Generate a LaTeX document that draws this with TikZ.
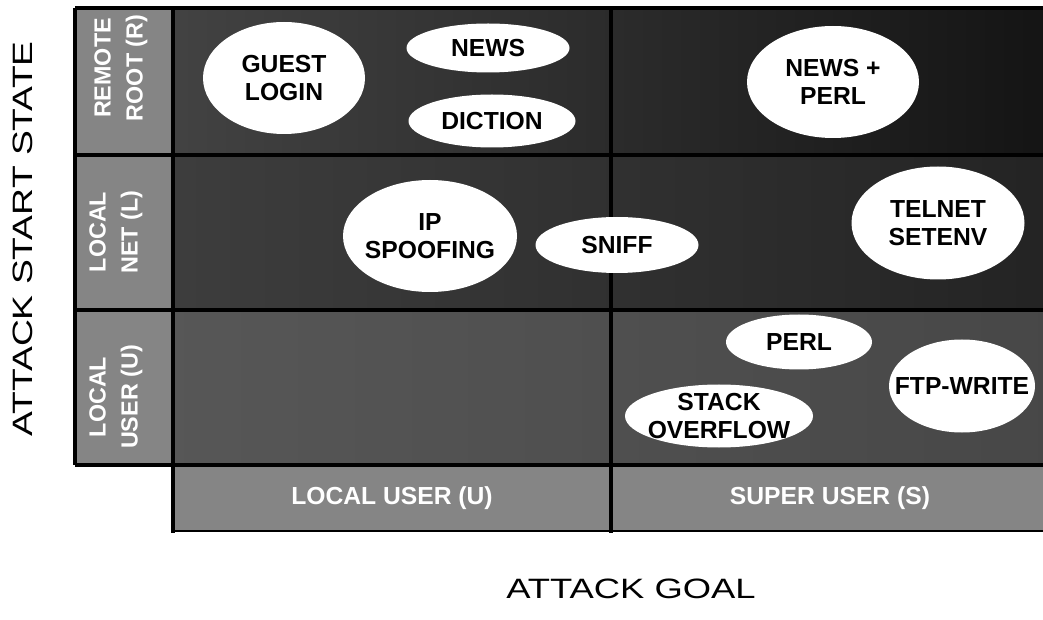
\documentclass[tikz,border=0pt]{standalone}
\usepackage{fontspec}
\usepackage{graphicx}
\setmainfont{Liberation Sans}
\usetikzlibrary{shapes.geometric}
\tikzset{
  attack/.style 2 args={ellipse, fill=white, draw=none, inner sep=0pt,
    minimum width=#1*0.75pt, minimum height=#2*0.75pt},
  attacktext/.style={font=\bfseries\fontsize{18.5}{21.5}\selectfont, text=black,
    align=center, inner sep=0pt},
  striptext/.style={font=\bfseries\fontsize{17.5}{24}\selectfont, text=white,
    align=center, inner sep=0pt},
  gridline/.style={line width=2.3pt, black},
  axistitle/.style={font=\fontsize{21}{24}\selectfont, text=black, inner sep=0pt},
}
\begin{document}
\begin{tikzpicture}[x=0.75pt,y=-0.75pt]
\useasboundingbox (0,0) rectangle (1043,620);

% shaded cells of the matrix
\fill[left color=black!74, right color=black!92] (172,8) rectangle (1043,155);
\fill[left color=black!76, right color=black!86] (172,155) rectangle (1043,310);
\fill[left color=black!66, right color=black!72] (172,310) rectangle (1043,465);
% label strips
\fill[black!48] (75,8) rectangle (172,465);
\fill[black!48] (172,465) rectangle (1043,531);

% grid lines
\draw[gridline] (75,8) -- (1043,8);
\draw[gridline] (75,155) -- (1043,155);
\draw[gridline] (75,310) -- (1043,310);
\draw[gridline] (75,465) -- (1043,465);
\draw[line width=1.2pt] (172,531) -- (1043,531);
\draw[gridline] (75,8) -- (75,465);
\draw[gridline] (173,8) -- (173,533);
\draw[gridline] (611,8) -- (611,533);

% row labels
\node[striptext, rotate=90] (rowR) at (121,68) {REMOTE\\ROOT (R)};
\node[striptext, rotate=90] (rowL) at (116,232) {LOCAL\\NET (L)};
\node[striptext, rotate=90] (rowU) at (116,397) {LOCAL\\USER (U)};

% column labels
\node[striptext, font=\bfseries\fontsize{18.5}{22}\selectfont] (colU) at (392,498) {LOCAL USER (U)};
\node[striptext, font=\bfseries\fontsize{18.5}{22}\selectfont] (colS) at (830,498) {SUPER USER (S)};

% attacks
\node[attack={162}{112}, label={[attacktext]center:GUEST\\LOGIN}] (guest) at (284,78) {};
\node[attack={163}{49}, label={[attacktext]center:NEWS}] (news) at (488,48) {};
\node[attack={167}{53}, label={[attacktext]center:DICTION}] (diction) at (492,121) {};
\node[attack={172}{112}, label={[attacktext]center:NEWS +\\PERL}] (newsperl) at (833,82) {};
\node[attack={174}{112}, label={[attacktext]center:IP\\SPOOFING}] (ipspoof) at (430,236) {};
\node[attack={163}{56}, label={[attacktext]center:SNIFF}] (sniff) at (617,245) {};
\node[attack={173}{113}, label={[attacktext]center:TELNET\\SETENV}] (telnet) at (938,223) {};
\node[attack={146}{55}, label={[attacktext]center:PERL}] (perl) at (799,342) {};
\node[attack={146}{93}, label={[attacktext]center:FTP-WRITE}] (ftp) at (962,386) {};
\node[attack={188}{63}, label={[attacktext]center:STACK\\OVERFLOW}] (stack) at (719,416) {};

% axis titles
\node[axistitle, rotate=90] (ystate) at (23,239) {\scalebox{1.33}[1]{ATTACK START STATE}};
\node[axistitle] (xgoal) at (631,589) {\scalebox{1.3}[1]{ATTACK GOAL}};
\end{tikzpicture}
\end{document}
